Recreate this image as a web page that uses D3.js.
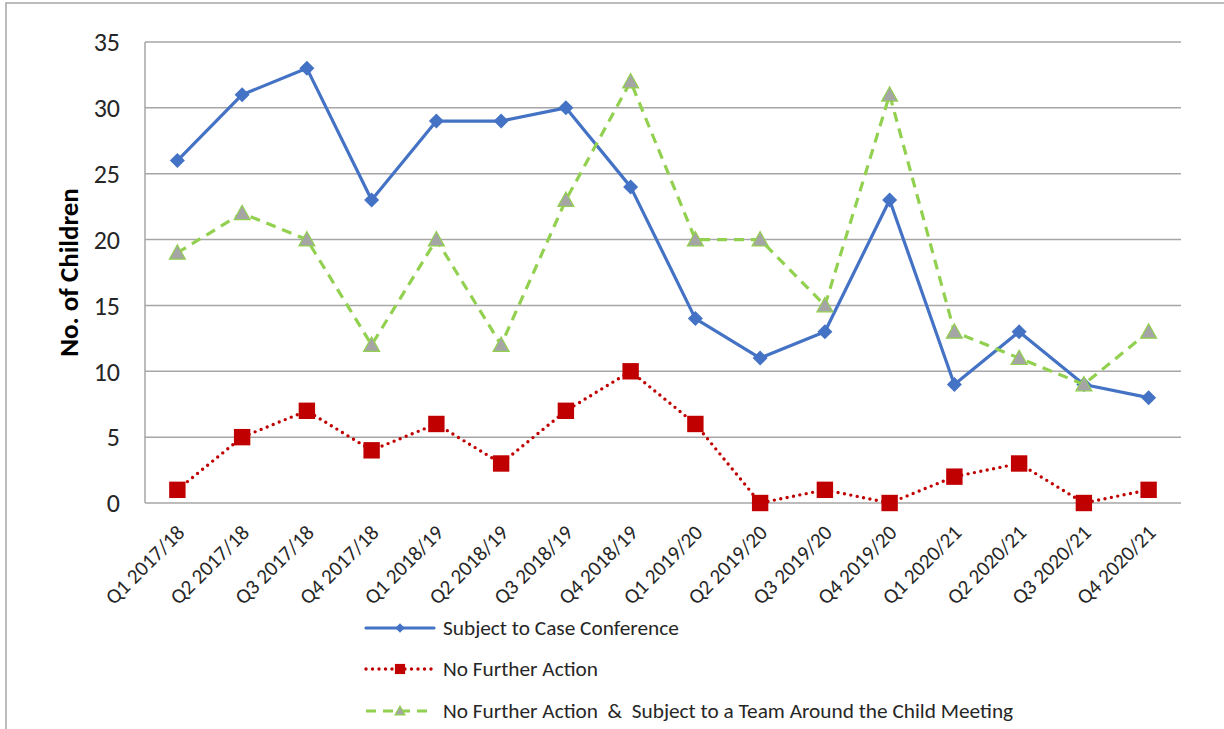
<!DOCTYPE html>
<html><head><meta charset="utf-8">
<script src="https://cdn.jsdelivr.net/npm/d3@7"></script>
<style>body{margin:0;background:#fff}svg{display:block;font-family:Carlito,Calibri,Lato,sans-serif}</style>
</head><body><svg id="c" width="1224" height="729"></svg>
<script>
const categories = ["Q1 2017/18","Q2 2017/18","Q3 2017/18","Q4 2017/18","Q1 2018/19","Q2 2018/19","Q3 2018/19","Q4 2018/19","Q1 2019/20","Q2 2019/20","Q3 2019/20","Q4 2019/20","Q1 2020/21","Q2 2020/21","Q3 2020/21","Q4 2020/21"];
const caseConference = [26,31,33,23,29,29,30,24,14,11,13,23,9,13,9,8];
const noFurtherAction = [1,5,7,4,6,3,7,10,6,0,1,0,2,3,0,1];
const nfaTeamAroundChild = [19,22,20,12,20,12,23,32,20,20,15,31,13,11,9,13];
const yTicks = [0,5,10,15,20,25,30,35];
const seriesNames = ["Subject to Case Conference","No Further Action","No Further Action  &  Subject to a Team Around the Child Meeting"];

const FONT = "Carlito,Calibri,Lato,sans-serif";
const svg = d3.select("#c");
svg.append("rect").attr("x",6).attr("y",3).attr("width",1240).attr("height",760).attr("fill","none").attr("stroke","#a6a6a6").attr("stroke-width",1.5);

const L=145,R=1181,T=42,B=503;
const x = d3.scalePoint().domain(categories).range([L,R]).padding(0.5);
const y = d3.scaleLinear().domain([0,35]).range([B,T]);

const g = svg.append("g");
g.selectAll("line.grid").data(yTicks).join("line").attr("class","grid")
 .attr("x1",L).attr("x2",R).attr("y1",d=>y(d)).attr("y2",d=>y(d))
 .attr("stroke","#a6a6a6").attr("stroke-width",1.5);
g.append("line").attr("x1",L).attr("x2",L).attr("y1",T).attr("y2",B).attr("stroke","#a6a6a6").attr("stroke-width",1.5);

const yAxis = svg.append("g").attr("transform",`translate(${L},0)`).call(d3.axisLeft(y).tickValues(yTicks).tickSize(0).tickPadding(25));
yAxis.select(".domain").remove();
yAxis.selectAll("text").attr("font-size",26).attr("fill","#262626").attr("font-family",FONT).attr("dy","0.34em");

const xAxis = svg.append("g").attr("transform",`translate(0,${B})`).call(d3.axisBottom(x).tickSize(0));
xAxis.select(".domain").remove();
xAxis.selectAll("text").attr("font-size",21).attr("fill","#262626").attr("font-family",FONT)
 .attr("text-anchor","end").attr("dy",0).attr("y",0)
 .attr("transform","translate(8,31) rotate(-45)");

svg.append("text").attr("transform",`translate(78,${(T+B)/2}) rotate(-90)`).attr("text-anchor","middle")
 .attr("font-size",27).attr("font-weight","bold").attr("fill","#000").text("No. of Children");

const line = d3.line().x((d,i)=>x(categories[i])).y(d=>y(d));
const styles = [
 {data:caseConference,color:"#4472C4",dash:null,width:3.2,cap:"round"},
 {data:noFurtherAction,color:"#C00000",dash:"0,6.5",width:3.4,cap:"round"},
 {data:nfaTeamAroundChild,color:"#92D050",dash:"10,7",width:3.2,cap:"butt"}
];
function marker(sel,k,cx,cy,scale){
 scale=scale||1;
 if(k===0){const r=7.5*scale;sel.append("path").attr("d",`M${cx},${cy-r}L${cx+r},${cy}L${cx},${cy+r}L${cx-r},${cy}Z`).attr("fill","#4472C4");}
 else if(k===1){const h=8.2*scale;sel.append("rect").attr("x",cx-h).attr("y",cy-h).attr("width",2*h).attr("height",2*h).attr("fill","#C00000");}
 else {const h=8*scale;sel.append("path").attr("d",`M${cx},${cy-h}L${cx+h},${cy+h*0.8}L${cx-h},${cy+h*0.8}Z`).attr("fill","#A5A5A5").attr("stroke","#92D050").attr("stroke-width",1.2);}
}
[0,1,2].forEach(k=>{
 const s=styles[k];
 const gg=svg.append("g");
 gg.append("path").datum(s.data).attr("d",line).attr("fill","none").attr("stroke",s.color)
  .attr("stroke-width",s.width).attr("stroke-dasharray",s.dash).attr("stroke-linecap",s.cap).attr("stroke-linejoin","round");
 s.data.forEach((v,i)=>marker(gg,k,x(categories[i]),y(v)));
});

// legend
const ly=[628,669,711];
seriesNames.forEach((n,k)=>{
 const s=styles[k];
 svg.append("line").attr("x1",366).attr("x2",434).attr("y1",ly[k]).attr("y2",ly[k]).attr("stroke",s.color)
  .attr("stroke-width",s.width).attr("stroke-dasharray",s.dash).attr("stroke-linecap",s.cap);
 marker(svg,k,400,ly[k],0.62);
 svg.append("text").attr("x",443).attr("y",ly[k]).attr("dy","0.33em").attr("font-size",21.3).attr("fill","#262626")
  .style("white-space","pre").attr("xml:space","preserve").text(n);
});
</script></body></html>
